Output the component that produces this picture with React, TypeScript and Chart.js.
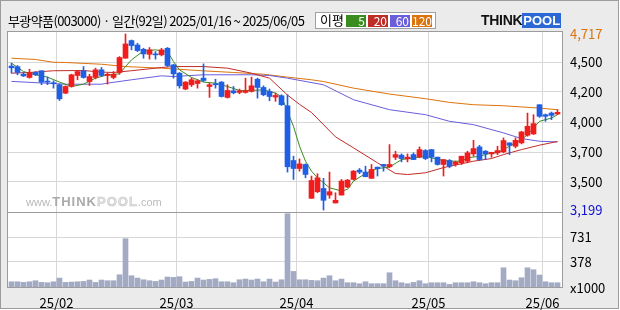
import React, { useEffect, useRef } from 'react';
import { Chart, registerables } from 'chart.js';

Chart.register(...registerables);

// ---------- data ----------
const tradingDays: [string, number[]][] = [
  ['2025-01', [16, 17, 20, 21, 22, 23, 24, 31]],
  ['2025-02', [3, 4, 5, 6, 7, 10, 11, 12, 13, 14, 17, 18, 19, 20, 21, 24, 25, 26, 27, 28]],
  ['2025-03', [4, 5, 6, 7, 10, 11, 12, 13, 14, 17, 18, 19, 20, 21, 24, 25, 26, 27, 28, 31]],
  ['2025-04', [1, 2, 3, 4, 7, 8, 9, 10, 11, 14, 15, 16, 17, 18, 21, 22, 23, 24, 25, 28, 29, 30]],
  ['2025-05', [2, 7, 8, 9, 12, 13, 14, 15, 16, 19, 20, 21, 22, 23, 26, 27, 28, 29, 30]],
  ['2025-06', [2, 4, 5]],
];
const dates: string[] = tradingDays.flatMap(([m, ds]) => ds.map((d) => `${m}-${String(d).padStart(2, '0')}`));

const opens = [
  4440, 4435, 4370, 4342, 4385, 4400, 4310, 4293, 4279, 4207,
  4264, 4359, 4399, 4307, 4342, 4408, 4359, 4342, 4385, 4508,
  4660, 4622, 4585, 4542, 4543, 4537, 4594, 4450, 4379, 4242,
  4279, 4290, 4336, 4264, 4287, 4302, 4170, 4227, 4213, 4213,
  4222, 4327, 4256, 4222, 4173, 4184, 4098, 3626, 3557, 3592,
  3300, 3357, 3385, 3328, 3260, 3328, 3397, 3463, 3543, 3526,
  3472, 3569, 3592, 3572, 3654, 3672, 3640, 3677, 3655, 3712,
  3720, 3655, 3592, 3626, 3592, 3606, 3620, 3683, 3743, 3706,
  3683, 3692, 3700, 3778, 3749, 3778, 3844, 3855, 4107, 4021,
  4035, 4027,
];
const highs = [
  4465, 4445, 4385, 4413, 4393, 4400, 4345, 4313, 4285, 4270,
  4370, 4399, 4436, 4370, 4422, 4428, 4379, 4393, 4522, 4717,
  4665, 4637, 4594, 4600, 4565, 4594, 4600, 4456, 4385, 4307,
  4336, 4322, 4459, 4293, 4327, 4307, 4279, 4264, 4242, 4336,
  4345, 4336, 4270, 4242, 4207, 4193, 4193, 3663, 3640, 3597,
  3492, 3512, 3472, 3526, 3348, 3463, 3463, 3540, 3557, 3577,
  3592, 3569, 3592, 3763, 3706, 3683, 3683, 3692, 3743, 3720,
  3720, 3655, 3634, 3634, 3620, 3663, 3706, 3800, 3757, 3712,
  3697, 3749, 3821, 3778, 3821, 3878, 4035, 4021, 4107, 4027,
  4044, 4064,
];
const lows = [
  4380, 4365, 4350, 4336, 4359, 4280, 4280, 4250, 4144, 4202,
  4258, 4322, 4336, 4273, 4330, 4350, 4285, 4330, 4370, 4508,
  4580, 4565, 4508, 4500, 4500, 4528, 4436, 4336, 4250, 4236,
  4264, 4250, 4307, 4170, 4250, 4173, 4164, 4201, 4201, 4207,
  4216, 4164, 4184, 4141, 4136, 4101, 3526, 3463, 3534, 3477,
  3300, 3348, 3199, 3300, 3260, 3328, 3391, 3457, 3512, 3486,
  3472, 3492, 3534, 3563, 3634, 3614, 3614, 3634, 3649, 3634,
  3614, 3586, 3492, 3563, 3577, 3592, 3606, 3663, 3626, 3634,
  3654, 3677, 3692, 3677, 3735, 3769, 3835, 3850, 3998, 3964,
  3978, 4021,
];
const closes = [
  4425, 4385, 4355, 4385, 4365, 4302, 4302, 4288, 4158, 4264,
  4365, 4393, 4342, 4350, 4408, 4359, 4370, 4370, 4514, 4631,
  4617, 4574, 4545, 4580, 4537, 4580, 4445, 4373, 4270, 4302,
  4322, 4313, 4316, 4279, 4279, 4178, 4230, 4210, 4227, 4227,
  4270, 4256, 4193, 4178, 4187, 4107, 3572, 3557, 3597, 3506,
  3454, 3477, 3283, 3357, 3283, 3449, 3457, 3534, 3526, 3486,
  3549, 3555, 3577, 3592, 3677, 3643, 3655, 3634, 3720, 3643,
  3655, 3592, 3634, 3577, 3612, 3663, 3692, 3729, 3634, 3683,
  3697, 3712, 3798, 3757, 3800, 3872, 3921, 3944, 4007, 4007,
  4015, 4041,
];
// volume in thousands of shares
const volumes = [
  90, 90, 81, 90, 105, 81, 76, 90, 143, 81,
  86, 90, 95, 115, 81, 115, 105, 105, 191, 711,
  177, 143, 119, 105, 95, 115, 158, 153, 163, 86,
  95, 143, 115, 124, 134, 90, 90, 76, 119, 129,
  115, 129, 90, 129, 86, 119, 1071, 239, 119, 119,
  110, 105, 143, 177, 105, 129, 76, 76, 62, 90,
  62, 62, 62, 220, 105, 76, 62, 81, 105, 62,
  76, 76, 76, 52, 76, 76, 76, 90, 76, 62,
  76, 76, 292, 115, 105, 148, 292, 264, 187, 90,
  76, 76,
];

// moving averages: [day index, value]
const ma5: [number, number][] = [
  [0, 4465], [2, 4393], [4, 4365], [6, 4345], [8, 4302], [10, 4264], [12, 4284], [14, 4336],
  [16, 4365], [18, 4373], [19, 4436], [20, 4494], [22, 4571], [24, 4580], [26, 4565], [27, 4479],
  [28, 4408], [30, 4342], [32, 4302], [34, 4293], [36, 4264], [38, 4230], [40, 4230], [42, 4236],
  [44, 4207], [45, 4178], [46, 4050], [47, 3920], [48, 3750], [49, 3620], [50, 3534], [51, 3477],
  [53, 3391], [55, 3363], [56, 3377], [57, 3448], [59, 3515], [61, 3557], [63, 3569], [65, 3634],
  [67, 3649], [69, 3663], [71, 3635], [73, 3620], [75, 3620], [76, 3649], [78, 3663], [80, 3692],
  [81, 3692], [83, 3749], [85, 3806], [86, 3849], [87, 3907], [88, 3964], [90, 3992], [91, 4021],
];
const ma20: [number, number][] = [
  [0, 4379], [3, 4385], [7, 4400], [12, 4402], [15, 4388], [17, 4385], [20, 4400], [25, 4428],
  [27, 4436], [32, 4436], [36, 4422], [40, 4379], [43, 4336], [46, 4190], [48, 4110], [50, 4040],
  [54, 3830], [57, 3735], [61, 3606], [64, 3514], [66, 3505], [69, 3520], [72, 3565], [77, 3620],
  [80, 3643], [82, 3677], [85, 3720], [88, 3758], [91, 3790],
];
const ma60: [number, number][] = [
  [0, 4308], [9, 4284], [15, 4284], [16, 4293], [20, 4322], [25, 4356], [27, 4350], [32, 4365],
  [40, 4365], [43, 4359], [46, 4336], [52, 4279], [57, 4150], [63, 4064], [69, 4021], [73, 3964],
  [77, 3935], [82, 3864], [85, 3815], [88, 3792], [91, 3786],
];
const ma120: [number, number][] = [
  [0, 4508], [4, 4497], [7, 4473], [9, 4471], [15, 4456], [19, 4436], [25, 4422], [32, 4399],
  [37, 4385], [42, 4370], [46, 4345], [50, 4322], [52, 4307], [57, 4250], [63, 4199], [69, 4159],
  [73, 4127], [77, 4107], [82, 4098], [88, 4078], [91, 4064],
];

const priceTickValues = [4717, 4475.3, 4216.7, 3958, 3699.3, 3440.7, 3199];
const priceTickLabels = ['4,717', '4,500', '4,200', '4,000', '3,700', '3,500', '3,199'];
const volTickValues = [731, 378, 0];
const volTickLabels = ['731', '378', 'x1000'];

const title = '부광약품(003000) · 일간(92일) 2025/01/16 ~ 2025/06/05';

// ---------- styles ----------
const UP = '#f21c1c';
const DOWN = '#1f5fe6';
const C5 = '#3a8c1f';
const C20 = '#bf2d28';
const C60 = '#6a5edb';
const C120 = '#dc740e';
const VOL = '#a3abc4';
const GRID = '#d8d8d8';
const FRAME = '#9c9c9c';
const FONT = "'Noto Sans CJK KR', 'Noto Sans', sans-serif";

const maLegend = [
  { label: '5', color: C5 },
  { label: '20', color: C20 },
  { label: '60', color: C60 },
  { label: '120', color: C120 },
];

const monthStarts: number[] = dates
  .map((d, i) => (i > 0 && d.slice(0, 7) !== dates[i - 1].slice(0, 7) ? i : -1))
  .filter((i) => i >= 0);
const xTickLabels = monthStarts.map((i) => `${dates[i].slice(2, 4)}/${dates[i].slice(5, 7)}`);

const framePlugin = {
  id: 'frame',
  beforeDraw(chart: any) {
    const { ctx, chartArea } = chart;
    ctx.save();
    ctx.fillStyle = '#ffffff';
    ctx.fillRect(chartArea.left, chartArea.top, chartArea.right - chartArea.left, chartArea.bottom - chartArea.top);
    ctx.restore();
  },
  afterDraw(chart: any) {
    const { ctx, chartArea } = chart;
    const l = Math.round(chartArea.left) - 0.5;
    const t = Math.round(chartArea.top) - 0.5;
    const r = Math.round(chartArea.right) - 0.5;
    const b = Math.round(chartArea.bottom) - 0.5;
    const mid = Math.round(chart.scales.y.bottom) + 0.5;
    ctx.save();
    ctx.strokeStyle = FRAME;
    ctx.lineWidth = 1;
    ctx.strokeRect(l, t, r - l, b - t);
    ctx.beginPath();
    ctx.moveTo(l, mid);
    ctx.lineTo(r, mid);
    ctx.stroke();
    ctx.restore();
  },
};

export default function App() {
  const canvasRef = useRef<HTMLCanvasElement>(null);

  useEffect(() => {
    const idx = dates.map((_, i) => i);
    const color = (i: number) => (closes[i] >= opens[i] ? UP : DOWN);
    const line = (label: string, pts: [number, number][], c: string) => ({
      type: 'line' as const,
      label,
      data: pts.map(([x, y]) => ({ x, y })),
      borderColor: c,
      borderWidth: 1,
      pointRadius: 0,
      tension: 0,
      yAxisID: 'y',
      xAxisID: 'x',
    });

    const chart = new Chart(canvasRef.current!, {
      type: 'bar',
      data: {
        datasets: [
          {
            type: 'bar',
            label: 'body',
            data: idx.map((i) => ({ x: i, y: [opens[i], closes[i]] })) as any,
            backgroundColor: idx.map(color),
            barThickness: 5,
            minBarLength: 1,
            grouped: false,
            yAxisID: 'y',
            xAxisID: 'x',
          },
          {
            type: 'bar',
            label: 'wick',
            data: idx.map((i) => ({ x: i, y: [lows[i], highs[i]] })) as any,
            backgroundColor: idx.map(color),
            barThickness: 1,
            grouped: false,
            yAxisID: 'y',
            xAxisID: 'x',
          },
          line('MA5', ma5, C5),
          line('MA20', ma20, C20),
          line('MA60', ma60, C60),
          line('MA120', ma120, C120),
          {
            type: 'bar',
            label: 'volume',
            data: idx.map((i) => ({ x: i, y: volumes[i] })) as any,
            backgroundColor: VOL,
            barThickness: 5,
            grouped: false,
            yAxisID: 'yv',
            xAxisID: 'x',
          },
        ] as any,
      },
      options: {
        responsive: false,
        animation: false,
        devicePixelRatio: 1,
        layout: { padding: { left: 8, top: 32, right: 0, bottom: 0 } },
        plugins: { legend: { display: false }, tooltip: { enabled: false } },
        scales: {
          x: {
            type: 'linear',
            min: -7 / 12,
            max: 91 + 11 / 12,
            offset: false,
            bounds: 'data',
            grid: { offset: false, color: GRID, drawTicks: false, lineWidth: 1 },
            border: { display: false },
            ticks: {
              autoSkip: false,
              maxRotation: 0,
              padding: 7,
              color: '#000',
              font: { family: FONT, size: 13 },
              callback: (_v: any, k: number) => xTickLabels[k],
            },
            afterBuildTicks: (s: any) => {
              s.ticks = monthStarts.map((i) => ({ value: i - 0.5 }));
            },
            afterFit: (s: any) => {
              s.height = 22;
            },
          },
          y: {
            type: 'linear',
            position: 'right',
            stack: 'panel',
            stackWeight: 180,
            min: 3182,
            max: 4734,
            beginAtZero: false,
            grid: {
              drawTicks: false,
              color: (c: any) => (c.index === 0 || c.index === priceTickValues.length - 1 ? 'rgba(0,0,0,0)' : GRID),
            },
            border: { display: false },
            ticks: {
              autoSkip: false,
              padding: 7,
              font: { family: FONT, size: 13 },
              color: (c: any) => (c.index === 0 ? C120 : c.index === priceTickValues.length - 1 ? '#1010d0' : '#000'),
              callback: (_v: any, k: number) => priceTickLabels[k],
            },
            afterBuildTicks: (s: any) => {
              s.ticks = priceTickValues.map((v) => ({ value: v }));
            },
            afterFit: (s: any) => {
              s.width = 57;
            },
          },
          yv: {
            type: 'linear',
            position: 'right',
            stack: 'panel',
            stackWeight: 76,
            min: 0,
            max: 1096,
            grid: {
              drawTicks: false,
              color: (c: any) => (c.index === volTickValues.length - 1 ? 'rgba(0,0,0,0)' : GRID),
            },
            border: { display: false },
            ticks: {
              autoSkip: false,
              padding: 7,
              color: '#000',
              font: { family: FONT, size: 13 },
              callback: (_v: any, k: number) => volTickLabels[k],
            },
            afterBuildTicks: (s: any) => {
              s.ticks = volTickValues.map((v) => ({ value: v }));
            },
            afterFit: (s: any) => {
              s.width = 57;
            },
          },
        },
      } as any,
      plugins: [framePlugin],
    });
    return () => chart.destroy();
  }, []);

  return (
    <div style={{ position: 'fixed', left: 0, top: 0, width: 620, height: 310, background: '#fff', overflow: 'hidden' }}>
      <div
        style={{
          position: 'absolute',
          left: 0,
          top: 0,
          width: 617,
          height: 307,
          border: `1px solid ${FRAME}`,
          background: '#ebebeb',
        }}
      />
      <canvas ref={canvasRef} width={620} height={310} style={{ position: 'absolute', left: 0, top: 0 }} />
      <div
        style={{
          position: 'absolute',
          left: 8,
          top: 12,
          font: `13px ${FONT}`,
          lineHeight: '18px',
          letterSpacing: '-0.6px',
          whiteSpace: 'nowrap',
          color: '#000',
        }}
      >
        {title}
      </div>
      <div
        style={{
          position: 'absolute',
          left: 315,
          top: 12,
          width: 119,
          height: 15,
          border: '1px solid #a0a0a0',
          background: '#fff',
        }}
      >
        <span
          style={{ position: 'absolute', left: 4, top: -2, font: `13px ${FONT}`, lineHeight: '18px', color: '#000' }}
        >
          이평
        </span>
        {maLegend.map((m, k) => (
          <span
            key={m.label}
            style={{
              position: 'absolute',
              left: 30 + k * 22 - (k === 3 ? 0 : 0),
              top: 2,
              width: 20,
              height: 12,
              background: m.color,
              color: '#fff',
              font: `12px ${FONT}`,
              lineHeight: '12px',
              textAlign: 'right',
              boxSizing: 'border-box',
              paddingRight: 1,
            }}
          >
            {m.label}
          </span>
        ))}
      </div>
      <div
        style={{
          position: 'absolute',
          left: 481,
          top: 13,
          font: "bold 14px 'Liberation Sans', Arial, sans-serif",
          lineHeight: '15px',
          whiteSpace: 'nowrap',
        }}
      >
        <span style={{ color: '#111', letterSpacing: '-0.3px' }}>THINK</span>
        <span style={{ color: '#fff', background: '#2b68d6', padding: '0 1px', fontSize: 13 }}>POOL</span>
      </div>
      <div
        style={{
          position: 'absolute',
          left: 26,
          top: 195,
          whiteSpace: 'nowrap',
          font: "bold 13px 'Liberation Sans', Arial, sans-serif",
          lineHeight: '14px',
          pointerEvents: 'none',
        }}
      >
        <span style={{ color: '#b9b9b9', fontSize: 11, fontWeight: 'normal' }}>www.</span>
        <span style={{ color: '#aaaaaa', letterSpacing: '1px' }}>THINK</span>
        <span style={{ color: '#e2e2e2', letterSpacing: '1px', WebkitTextStroke: '0.5px #c4c4c4' }}>POOL</span>
        <span style={{ color: '#bbbbbb', fontSize: 11, fontWeight: 'normal' }}>.com</span>
      </div>
    </div>
  );
}
